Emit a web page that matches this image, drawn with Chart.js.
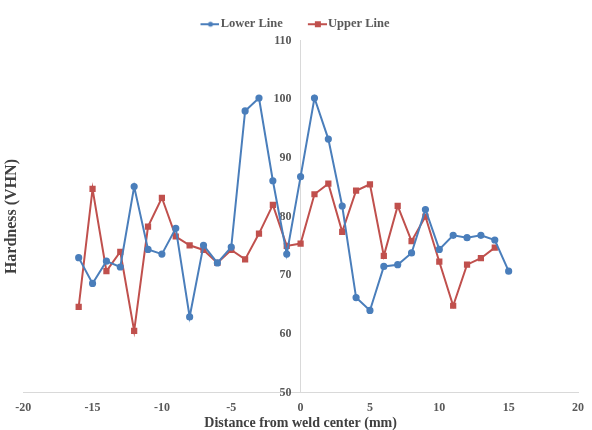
<!DOCTYPE html>
<html>
<head>
<meta charset="utf-8">
<script src="https://cdn.jsdelivr.net/npm/chart.js@4.4.0/dist/chart.umd.min.js"></script>
<style>
  html, body { margin: 0; padding: 0; background: #fff; }
  #wrap { width: 592px; height: 430px; }
</style>
</head>
<body>
<div id="wrap"><canvas id="hardness-chart"></canvas></div>
<script>
// distance from weld center (mm)
const lowerX = [-16, -15, -14, -13, -12, -11, -10, -9, -8, -7, -6, -5, -4, -3, -2, -1, 0, 1, 2, 3, 4, 5, 6, 7, 8, 9, 10, 11, 12, 13, 14, 15];
const lowerValues = [73.0, 68.6, 72.4, 71.4, 85.1, 74.4, 73.6, 78.0, 62.9, 75.1, 72.1, 74.8, 98.0, 100.2, 86.1, 73.6, 86.8, 100.2, 93.2, 81.8, 66.2, 64.0, 71.5, 71.8, 73.8, 81.2, 74.4, 76.8, 76.4, 76.8, 76.0, 70.7];

const upperX = [-16, -15, -14, -13, -12, -11, -10, -9, -8, -7, -6, -5, -4, -3, -2, -1, 0, 1, 2, 3, 4, 5, 6, 7, 8, 9, 10, 11, 12, 13, 14];
const upperValues = [64.6, 84.7, 70.7, 74.0, 60.5, 78.3, 83.2, 76.6, 75.1, 74.3, 72.1, 74.3, 72.7, 77.1, 82.0, 75.0, 75.4, 83.8, 85.6, 77.4, 84.4, 85.5, 73.3, 81.8, 75.8, 80.0, 72.3, 64.8, 71.8, 72.9, 74.7];

const blue = "#4A7EBB";
const red = "#C0504D";
const textColor = "#595959";
const serif = "'Liberation Serif', 'DejaVu Serif', serif";

// excel style legend icon: line with marker, drawn in the right part of the
// canvas so the icon sits close to its text
function legendIcon(color, square) {
    const c = document.createElement("canvas");
    c.width = 28;
    c.height = 8;
    const g = c.getContext("2d");
    g.strokeStyle = color;
    g.lineWidth = 2;
    g.beginPath();
    g.moveTo(9, 4);
    g.lineTo(28, 4);
    g.stroke();
    g.fillStyle = color;
    if (square) {
        g.fillRect(16, 1, 6, 6);
    } else {
        g.beginPath();
        g.arc(19, 4, 2.5, 0, Math.PI * 2);
        g.fill();
    }
    return c;
}

const toPoints = (xs, ys) => xs.map((x, i) => ({ x: x, y: ys[i] }));

let ctx = document.getElementById("hardness-chart").getContext("2d");

let hardnessChart = new Chart(ctx, {
    type: "line",
    data: {
        datasets: [{
            label: "Lower Line",
            data: toPoints(lowerX, lowerValues),
            borderColor: blue,
            backgroundColor: blue,
            borderWidth: 2,
            pointStyle: "circle",
            pointRadius: 2.6,
            pointHoverRadius: 2.6,
            yAxisID: "y",
        }, {
            label: "Upper Line",
            data: toPoints(upperX, upperValues),
            borderColor: red,
            backgroundColor: red,
            borderWidth: 2,
            pointStyle: "rect",
            pointRadius: 3,
            pointHoverRadius: 3,
            yAxisID: "y",
        }],
    },
    options: {
        responsive: true,
        maintainAspectRatio: false,
        animation: false,
        layout: {
            padding: { top: -3, right: 6, bottom: 0, left: 0 },
        },
        plugins: {
            tooltip: { enabled: false },
            legend: {
                display: true,
                position: "top",
                labels: {
                    color: textColor,
                    font: { family: serif, size: 12.5, weight: "bold" },
                    boxHeight: 8,
                    padding: 21,
                    usePointStyle: true,
                    pointStyleWidth: 18,
                    generateLabels: (chart) => chart.data.datasets.map((ds, i) => ({
                        text: ds.label,
                        fontColor: textColor,
                        pointStyle: legendIcon(ds.borderColor, i === 1),
                        datasetIndex: i,
                        lineWidth: 0,
                        strokeStyle: ds.borderColor,
                        fillStyle: ds.borderColor,
                    })),
                },
            },
        },
        scales: {
            x: {
                type: "linear",
                position: "bottom",
                min: -20,
                max: 20,
                grid: { display: false, drawTicks: false },
                border: { display: true, color: "#D9D9D9", width: 1 },
                ticks: {
                    stepSize: 5,
                    color: textColor,
                    padding: 8,
                    font: { family: serif, size: 12, weight: "bold" },
                },
                title: {
                    display: true,
                    text: "Distance from weld center (mm)",
                    color: "#404040",
                    font: { family: serif, size: 14, weight: "bold", lineHeight: 1 },
                    padding: { top: -7, bottom: 0 },
                },
            },
            y: {
                type: "linear",
                position: { x: 0 },
                min: 50,
                max: 110,
                grid: { display: false, drawTicks: false },
                border: { display: true, color: "#D9D9D9", width: 1 },
                ticks: {
                    stepSize: 10,
                    color: textColor,
                    // labels sit left of the centre axis, keep a small gap
                    callback: (value) => value + "   ",
                    font: { family: serif, size: 12, weight: "bold" },
                },
            },
            // only carries the axis title at the far left
            yTitle: {
                type: "linear",
                position: "left",
                min: 50,
                max: 110,
                grid: { display: false, drawTicks: false },
                border: { display: false },
                ticks: { display: false },
                title: {
                    display: true,
                    text: "Hardness (VHN)",
                    color: "#404040",
                    font: { family: serif, size: 16, weight: "bold" },
                    padding: { top: 2, bottom: 2 },
                },
            },
        },
    },
});
</script>
</body>
</html>
